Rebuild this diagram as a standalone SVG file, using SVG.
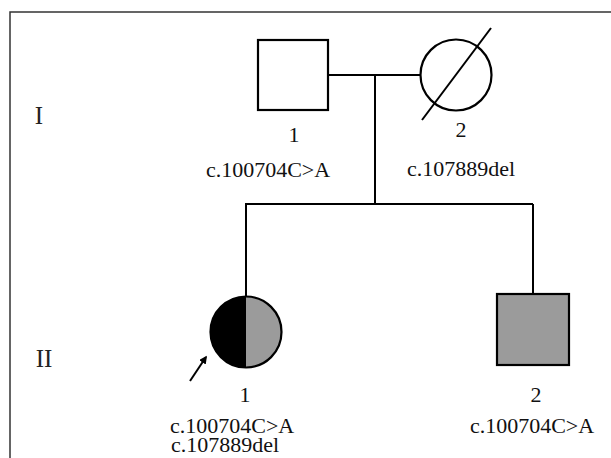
<svg xmlns="http://www.w3.org/2000/svg" width="611" height="458" viewBox="0 0 611 458">
  <style>
    .frame { fill: none; stroke: #333; stroke-width: 1.5; }
    .line { fill: none; stroke: #000; stroke-width: 2; }
    .sym { stroke: #000; stroke-width: 2.2; }
    .txt { font-family: "Liberation Serif", "Times New Roman", serif; font-size: 22px; fill: #111; }
    .gen { font-family: "Liberation Serif", "Times New Roman", serif; font-size: 25px; fill: #222; }
  </style>
  <defs>
    <marker id="arrowhead" viewBox="0 0 10 10" refX="8" refY="5" markerWidth="4" markerHeight="4" orient="auto">
      <path d="M0,0 L10,5 L0,10 z" fill="#000"/>
    </marker>
  </defs>

  <rect width="611" height="458" fill="#fff"/>
  <!-- outer frame: top and left edges -->
  <path class="frame" d="M10,458 V12 H611"/>

  <!-- generation labels -->
  <text class="gen" x="39" y="124" text-anchor="middle">I</text>
  <text class="gen" x="44" y="367" text-anchor="middle">II</text>

  <!-- connectors -->
  <g id="connectors">
    <path class="line" d="M328,75 H420"/>
    <path class="line" d="M375,75 V204"/>
    <path class="line" d="M245,204 H533"/>
    <path class="line" d="M246,204 V296"/>
    <path class="line" d="M533,204 V294"/>
  </g>

  <!-- I-1 -->
  <g id="I-1">
    <rect class="sym" x="258" y="40" width="70" height="70" fill="#fff"/>
    <text class="txt" x="294" y="142" text-anchor="middle">1</text>
    <text class="txt" x="268" y="177" text-anchor="middle">c.100704C&gt;A</text>
  </g>

  <!-- I-2 (deceased) -->
  <g id="I-2">
    <circle class="sym" cx="456" cy="75" r="35.5" fill="#fff"/>
    <path class="line" d="M422,120 L491,28"/>
    <text class="txt" x="461" y="137" text-anchor="middle">2</text>
    <text class="txt" x="461" y="176" text-anchor="middle">c.107889del</text>
  </g>

  <!-- II-1 (proband, compound heterozygous) -->
  <g id="II-1">
    <path d="M246,296.5 A35.5,35.5 0 0 0 246,367.5 Z" fill="#000"/>
    <path d="M246,296.5 A35.5,35.5 0 0 1 246,367.5 Z" fill="#9b9b9b"/>
    <circle class="sym" cx="246" cy="332" r="35.5" fill="none"/>
    <path class="line" d="M190,381 L206,357" marker-end="url(#arrowhead)"/>
    <text class="txt" x="245" y="402" text-anchor="middle">1</text>
    <text class="txt" x="170" y="433">c.100704C&gt;A</text>
    <text class="txt" x="171" y="452">c.107889del</text>
  </g>

  <!-- II-2 -->
  <g id="II-2">
    <rect class="sym" x="497" y="294" width="72" height="71" fill="#9b9b9b"/>
    <text class="txt" x="536" y="402" text-anchor="middle">2</text>
    <text class="txt" x="532" y="433" text-anchor="middle">c.100704C&gt;A</text>
  </g>
</svg>
